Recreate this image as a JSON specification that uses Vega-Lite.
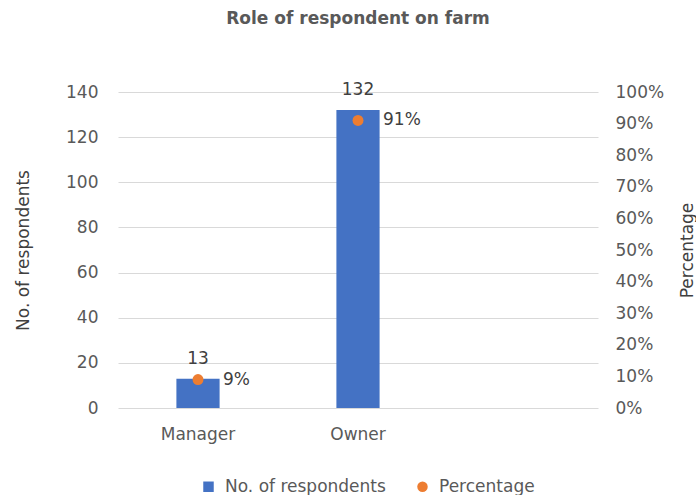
{
  "$schema": "https://vega.github.io/schema/vega-lite/v6.json",
  "width": 480,
  "height": 316,
  "padding": {"left": 14, "top": 10, "right": 0, "bottom": 0},
  "background": "white",
  "config": {
    "view": {"stroke": null},
    "font": "DejaVu Sans",
    "axis": {"labelFont": "DejaVu Sans", "titleFont": "DejaVu Sans", "labelColor": "#595959", "titleColor": "#404040", "titleFontWeight": "normal"}
  },
  "title": {
    "text": "Role of respondent on farm",
    "font": "DejaVu Sans",
    "fontSize": 17,
    "fontWeight": "bold",
    "color": "#595959",
    "anchor": "middle",
    "frame": "group",
    "offset": 53
  },
  "data": {
    "values": [
      {"role": "Manager", "count": 13, "pct": 0.09},
      {"role": "Owner", "count": 132, "pct": 0.91}
    ]
  },
  "encoding": {
    "x": {
      "field": "role",
      "type": "nominal",
      "title": null,
      "sort": null,
      "scale": {"domain": ["Manager", "Owner", " "], "paddingInner": 0, "paddingOuter": 0},
      "axis": {"labelAngle": 0, "ticks": false, "domain": false, "labelFontSize": 17, "labelPadding": 18, "grid": false}
    }
  },
  "layer": [
    {
      "encoding": {
        "y": {
          "field": "count",
          "type": "quantitative",
          "title": "No. of respondents",
          "scale": {"domain": [0, 140]},
          "axis": {"values": [0, 20, 40, 60, 80, 100, 120, 140], "domain": false, "ticks": false, "labelFontSize": 17, "labelPadding": 20, "titleFontSize": 17, "titlePadding": 33, "gridColor": "#d9d9d9", "gridWidth": 1}
        }
      },
      "layer": [
        {
          "mark": {"type": "bar", "width": {"band": 0.27}},
          "encoding": {
            "color": {
              "datum": "No. of respondents",
              "type": "nominal",
              "scale": {"domain": ["No. of respondents", "Percentage"], "range": ["#4472C4", "#ED7D31"]},
              "legend": {
                "title": null,
                "orient": "none",
                "direction": "horizontal",
                "legendX": 82,
                "legendY": 386,
                "labelFont": "DejaVu Sans",
                "labelFontSize": 17,
                "labelColor": "#595959",
                "labelLimit": 400,
                "symbolSize": 110,
                "symbolOffset": 0,
                "labelOffset": 8,
                "columnPadding": 28,
                "symbolType": "square",
                "encode": {"symbols": {"update": {"shape": {"signal": "datum.value === 'Percentage' ? 'circle' : 'square'"}, "opacity": {"value": 1}}}}
              }
            }
          }
        },
        {
          "mark": {"type": "text", "baseline": "middle", "dy": -20, "fontSize": 17, "color": "#404040", "font": "DejaVu Sans"},
          "encoding": {"text": {"field": "count", "type": "quantitative"}}
        }
      ]
    },
    {
      "encoding": {
        "y": {
          "field": "pct",
          "type": "quantitative",
          "title": "Percentage",
          "scale": {"domain": [0, 1]},
          "axis": {"orient": "right", "format": ".0%", "values": [0, 0.1, 0.2, 0.3, 0.4, 0.5, 0.6, 0.7, 0.8, 0.9, 1], "domain": false, "ticks": false, "grid": false, "labelFontSize": 17, "labelPadding": 17, "titleFontSize": 17, "titlePadding": 33, "titleAngle": 270}
        }
      },
      "layer": [
        {
          "mark": {"type": "point", "filled": true, "size": 120, "opacity": 1},
          "encoding": {"color": {"datum": "Percentage", "type": "nominal"}}
        },
        {
          "mark": {"type": "text", "align": "left", "baseline": "middle", "dx": 25, "fontSize": 17, "color": "#404040", "font": "DejaVu Sans"},
          "encoding": {"text": {"field": "pct", "type": "quantitative", "format": ".0%"}}
        }
      ]
    }
  ],
  "resolve": {"scale": {"y": "independent"}}
}
